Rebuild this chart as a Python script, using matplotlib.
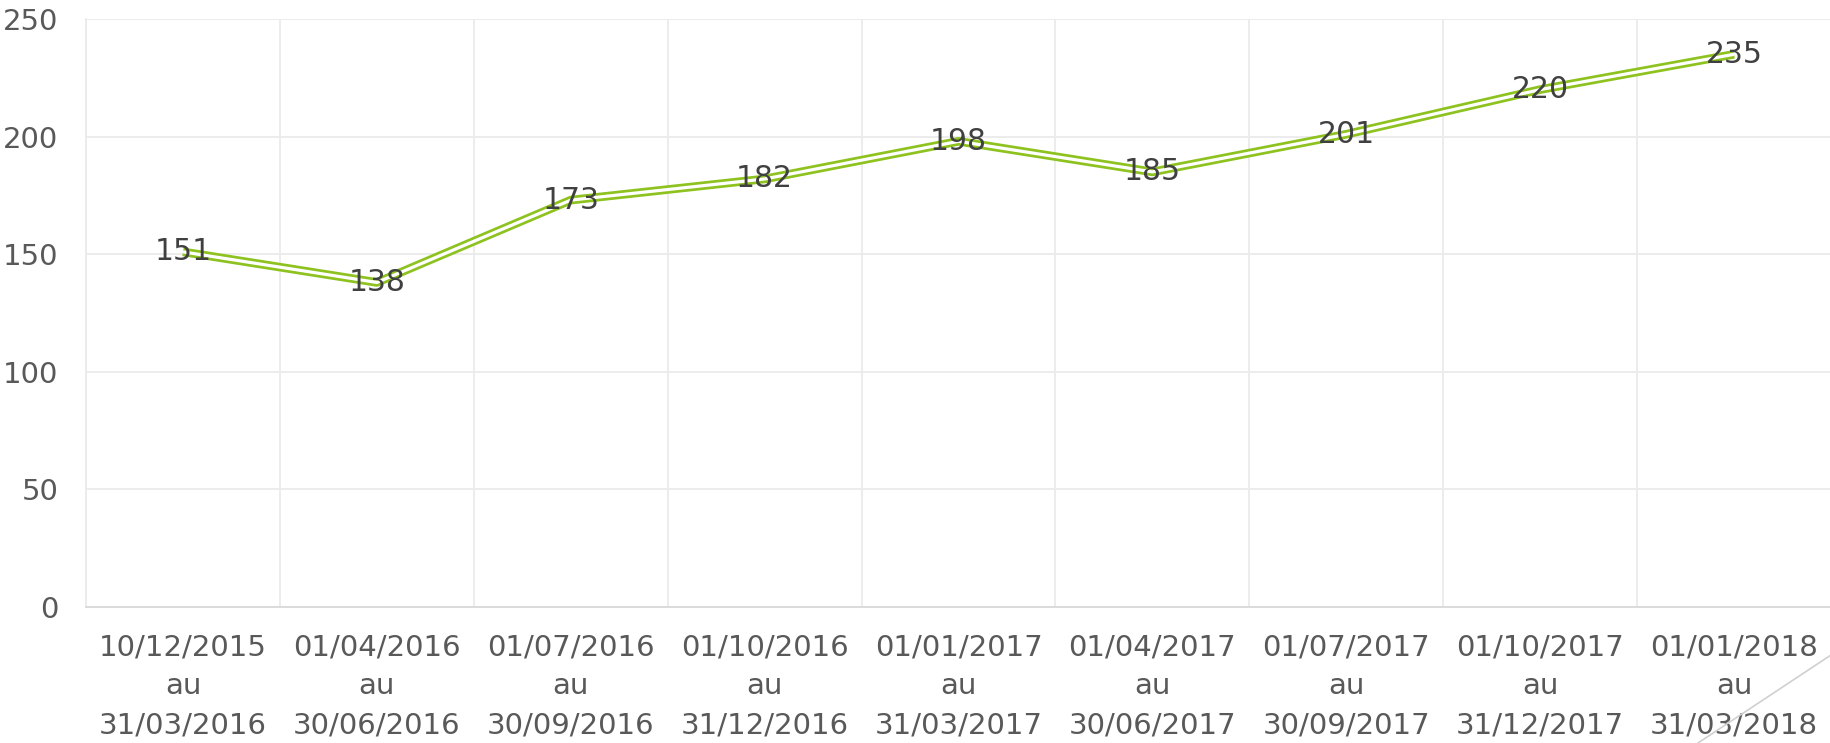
import matplotlib.pyplot as plt
from matplotlib.lines import Line2D

periods = [
    "10/12/2015\nau\n31/03/2016",
    "01/04/2016\nau\n30/06/2016",
    "01/07/2016\nau\n30/09/2016",
    "01/10/2016\nau\n31/12/2016",
    "01/01/2017\nau\n31/03/2017",
    "01/04/2017\nau\n30/06/2017",
    "01/07/2017\nau\n30/09/2017",
    "01/10/2017\nau\n31/12/2017",
    "01/01/2018\nau\n31/03/2018",
]
values = [151, 138, 173, 182, 198, 185, 201, 220, 235]
y_ticks = [0, 50, 100, 150, 200, 250]

green = '#8DC21F'
grid_col = '#EBEBEB'

fig = plt.figure(figsize=(18.31, 7.43), dpi=100)
ax = fig.add_axes([0.047, 0.183, 0.953, 0.7914])

x = list(range(len(values)))
# double (compound) line: thick green with a thin white core
ax.plot(x, values, color=green, lw=6.2, solid_capstyle='butt', zorder=3)
ax.plot(x, values, color='white', lw=2.3, solid_capstyle='butt', zorder=4)

for xi, v in zip(x, values):
    ax.text(xi, v, str(v), ha='center', va='center', fontsize=21.5,
            color='#404040', zorder=5)

ax.set_xlim(-0.5, len(values) - 0.5)
ax.set_ylim(0, 250)
ax.set_yticks(y_ticks)
ax.set_xticks(x)
ax.set_xticklabels(periods, linespacing=1.5)
ax.set_xticks([i + 0.5 for i in range(-1, len(values))], minor=True)

ax.tick_params(axis='both', which='both', length=0, labelsize=21,
               labelcolor='#595959')
ax.tick_params(axis='y', pad=20)
ax.tick_params(axis='x', pad=19)

ax.grid(axis='y', which='major', color=grid_col, lw=1.3)
ax.grid(axis='x', which='minor', color=grid_col, lw=1.3)
ax.set_axisbelow(True)

for side in ['top', 'right']:
    ax.spines[side].set_visible(False)
ax.spines['left'].set_color(grid_col)
ax.spines['left'].set_linewidth(1.3)
ax.spines['bottom'].set_color('#D9D9D9')
ax.spines['bottom'].set_linewidth(1.3)

# resize-handle style corner mark
fig.add_artist(Line2D([1698 / 1831, 1.0], [0.0, 1 - 655 / 743],
                      transform=fig.transFigure, color='#D0D0D0', lw=1.2))

fig.savefig('out.png', dpi=100, facecolor='white')
